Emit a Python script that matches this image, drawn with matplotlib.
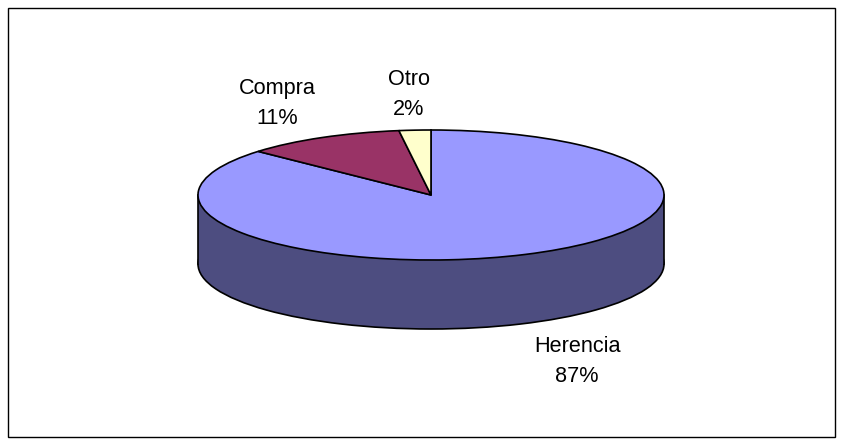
import matplotlib
matplotlib.use('Agg')
import matplotlib.pyplot as plt
import matplotlib.patches as patches

plt.rcParams['font.family'] = ['Liberation Sans', 'DejaVu Sans']

# Data
categories = ['Herencia', 'Compra', 'Otro']
percentages = [86.7, 11.1, 2.2]
top_colors = ['#9999FF', '#993366', '#FFFFCC']
side_color = '#4D4D80'

W, H = 843, 445
CX, CY, RX, RY = 431, 195, 233, 65
DEPTH = 69 / RY


def px(x, y):
    # reference pixel -> data coords of the squashed pie axes
    return (x - CX) / RX, (CY - y) / RY


def create_chart():
    fig = plt.figure(figsize=(W / 100, H / 100), dpi=100)
    fig.patch.set_facecolor('white')
    ax = fig.add_axes([0, 0, 1, 1])

    edge = dict(edgecolor='black', linewidth=1.2)

    # Bottom of the cylinder, one whole wedge so no radial lines show
    low, _ = ax.pie([sum(percentages)], colors=[side_color], startangle=90, counterclock=False,
                    center=(0, -DEPTH), wedgeprops=edge)
    for w in low:
        w.set_zorder(1)

    # Wall between bottom and top
    ax.add_patch(patches.Rectangle((-1, -DEPTH), 2, DEPTH, fc=side_color, ec='none', zorder=2))
    ax.plot([-1, -1], [0, -DEPTH], color='black', lw=1.2, zorder=3)
    ax.plot([1, 1], [0, -DEPTH], color='black', lw=1.2, zorder=3)

    # Top face
    top, _ = ax.pie(percentages, colors=top_colors, startangle=90, counterclock=False,
                    wedgeprops=edge)
    for w in top:
        w.set_zorder(4)

    # pie() resets limits and aspect, stretch it to the ellipse here
    ax.set_aspect('auto')
    ax.set_xlim(px(0, 0)[0], px(W, 0)[0])
    ax.set_ylim(px(0, H)[1], px(0, 0)[1])

    # Labels, last line baseline in reference pixels
    label_pos = [(577, 382), (277, 124), (409, 115)]
    for name, pct, (x, y) in zip(categories, percentages, label_pos):
        tx, ty = px(x, y)
        ax.text(tx, ty, f'{name}\n{pct:.0f}%', ha='center', va='baseline', fontsize=15.6,
                linespacing=1.55, color='black', zorder=5)

    # Chart area border
    fig.add_artist(patches.Rectangle((7.5 / W, 1 - 436.5 / H), 827.5 / W, 428.5 / H, fill=False,
                                     edgecolor='black', linewidth=1.0,
                                     transform=fig.transFigure))

    fig.savefig('out.png', dpi=100)


if __name__ == '__main__':
    create_chart()
